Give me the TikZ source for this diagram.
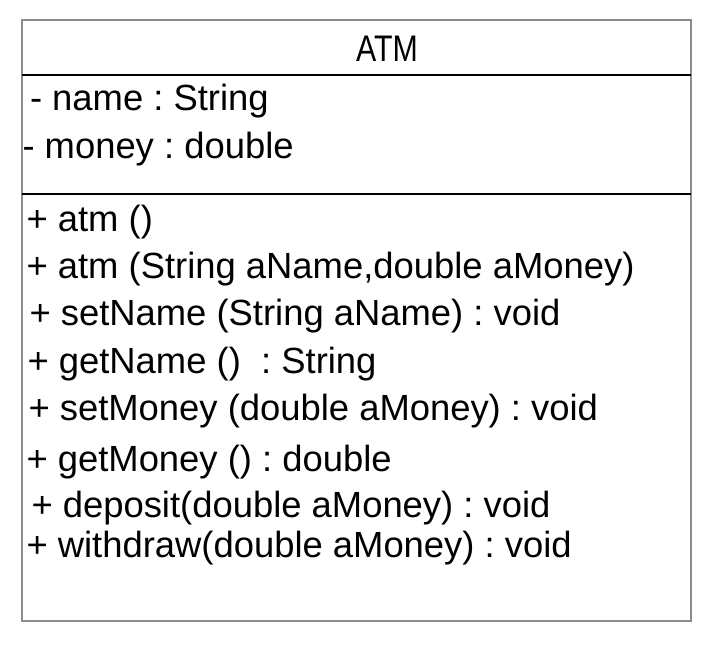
\documentclass[tikz,border=0pt]{standalone}
\usepackage{fontspec}
\setmainfont{Liberation Sans}
\usepackage{xcolor}
\usepackage{tikz}
\usetikzlibrary{positioning}

\definecolor{boxgray}{HTML}{8A8C8E}
\frenchspacing

\begin{document}
\begin{tikzpicture}[x=1pt,y=-1pt]
        \tikzset{Member/.style={%
            anchor=base west,%
            inner sep=0pt,%
            outer sep=0pt,%
            font=\fontsize{36.4}{40}\selectfont,%
        }}
        \tikzset{Title/.style={%
            anchor=base,%
            inner sep=0pt,%
            font=\fontsize{37}{40}\selectfont,%
        }}

        \useasboundingbox (0,0) rectangle (720,650);

        % class box
        \coordinate (nw) at (22,20);
        \coordinate (se) at (691,621);
        \coordinate (l1) at (22,75);
        \coordinate (r1) at (691,75);
        \coordinate (l2) at (22,194);
        \coordinate (r2) at (691,194);
        \draw[boxgray, line width=2pt] (nw) rectangle (se);
        \draw[black, line width=2pt] (l1) -- (r1);
        \draw[black, line width=2pt] (l2) -- (r2);

        \node[Title] (atm) at (387,62) {\scalebox{0.82}[1]{ATM}};

        % attributes
        \node[Member] (name) at (30,111) {- name : String};
        \node[Member] (money) at (22.5,158) {- money : double};

        % operations
        \node[Member] (ctor) at (26.5,231) {+ atm ()};
        \node[Member] (ctorargs) at (26.5,278) {+ atm (String aName,double aMoney)};
        \node[Member] (setname) at (29.5,325) {+ setName (String aName) : void};
        \node[Member] (getname) at (27.5,373) {+ getName ()\ \ : String};
        \node[Member] (setmoney) at (28.5,420) {+ setMoney (double aMoney) : void};
        \node[Member] (getmoney) at (26.5,471.5) {+ getMoney () : double};
        \node[Member] (deposit) at (31.5,517) {+ deposit(double aMoney) : void};
        \node[Member] (withdraw) at (26.5,557) {+ withdraw(double aMoney) : void};
\end{tikzpicture}
\end{document}
